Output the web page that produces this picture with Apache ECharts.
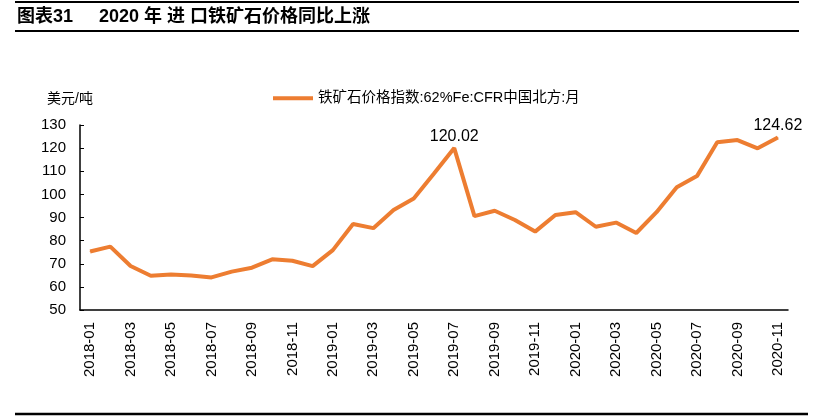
<!DOCTYPE html>
<html>
<head>
<meta charset="utf-8">
<script src="https://cdn.jsdelivr.net/npm/echarts@6/dist/echarts.min.js"></script>
<style>
html,body{margin:0;padding:0;background:#fff;}
#c{width:826px;height:418px;}
</style>
</head>
<body>
<div id="c"></div>
<script>
const categories = [
  '2018-01','2018-02','2018-03','2018-04','2018-05','2018-06','2018-07','2018-08','2018-09','2018-10','2018-11','2018-12',
  '2019-01','2019-02','2019-03','2019-04','2019-05','2019-06','2019-07','2019-08','2019-09','2019-10','2019-11','2019-12',
  '2020-01','2020-02','2020-03','2020-04','2020-05','2020-06','2020-07','2020-08','2020-09','2020-10','2020-11'
];
const ironOre = [
  75.3, 77.4, 69.0, 64.8, 65.4, 64.9, 64.1, 66.6, 68.3, 71.9, 71.3, 69.0,
  75.9, 87.2, 85.4, 93.2, 98.2, 109.0, 120.02, 90.6, 92.9, 88.9, 83.9, 91.1,
  92.3, 86.0, 87.8, 83.3, 92.3, 103.1, 107.9, 122.5, 123.5, 119.9, 124.62
];
const labelIdx = [18, 34];
const seriesName = '铁矿石价格指数:62%Fe:CFR中国北方:月';

const chart = echarts.init(document.getElementById('c'));
const cn = '"Liberation Sans", Arial, "Noto Sans CJK SC", sans-serif';
chart.setOption({
  animation: false,
  backgroundColor: '#fff',
  textStyle: { fontFamily: cn },
  graphic: [
    { type: 'line', shape: { x1: 15, y1: 2, x2: 799, y2: 2 }, style: { stroke: '#000', lineWidth: 2 } },
    { type: 'line', shape: { x1: 15, y1: 31, x2: 799, y2: 31 }, style: { stroke: '#000', lineWidth: 2 } },
    { type: 'line', shape: { x1: 15, y1: 414, x2: 808, y2: 414 }, style: { stroke: '#000', lineWidth: 2.5 } },
    { type: 'text', left: 17, top: 8, style: { text: '图表31', font: 'bold 18px ' + cn, fill: '#000' } },
    { type: 'text', left: 99, top: 8, style: { text: '2020 年 进 口铁矿石价格同比上涨', font: 'bold 18px ' + cn, fill: '#000' } },
    { type: 'text', left: 47, top: 92, style: { text: '美元/吨', font: '14px ' + cn, fill: '#000' } }
  ],
  legend: {
    show: true,
    left: 268, top: 86,
    itemWidth: 40, itemHeight: 4,
    itemGap: 4,
    textStyle: { fontSize: 14.5, color: '#000', fontFamily: cn },
    data: [{ name: seriesName, icon: 'rect' }]
  },
  grid: { left: 80, right: 38, top: 125, bottom: 108 },
  xAxis: {
    type: 'category',
    data: categories,
    boundaryGap: true,
    axisLine: { lineStyle: { color: '#000', width: 1.5 } },
    axisTick: { inside: true, length: 4, interval: 1, lineStyle: { color: '#000' } },
    axisLabel: { rotate: 90, interval: 1, margin: 12, fontSize: 15, color: '#000', fontFamily: cn },
    splitLine: { show: false }
  },
  yAxis: {
    type: 'value',
    min: 50, max: 130, interval: 10,
    axisLine: { show: true, lineStyle: { color: '#000', width: 1.5 } },
    axisTick: { show: true, inside: true, length: 4, lineStyle: { color: '#000' } },
    axisLabel: { fontSize: 15, color: '#000', margin: 14, fontFamily: cn },
    splitLine: { show: false }
  },
  series: [{
    name: seriesName,
    type: 'line',
    showSymbol: true,
    symbol: 'circle',
    symbolSize: 1,
    lineStyle: { color: '#ED7D31', width: 4 },
    itemStyle: { color: '#ED7D31' },
    label: { show: false },
    emphasis: { disabled: true },
    data: ironOre.map((v, i) => labelIdx.includes(i)
      ? { value: v, label: { show: true, position: 'top', distance: 3, formatter: v.toFixed(2), fontSize: 16, color: '#000', fontFamily: cn } }
      : v)
  }]
});
</script>
</body>
</html>
